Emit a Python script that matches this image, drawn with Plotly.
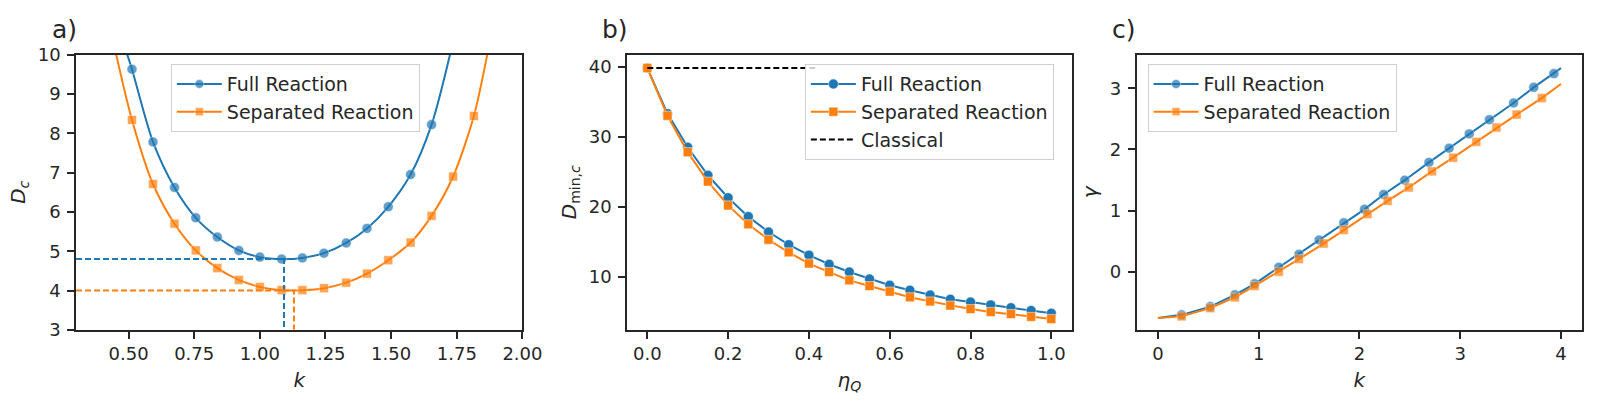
import plotly.graph_objects as go

# ---- data ----
# a) critical D vs k (first/last points are where the curve leaves the frame)
k_a_full = [0.495, 0.513, 0.593, 0.675, 0.756, 0.838, 0.920, 1.000, 1.083, 1.162,
            1.244, 1.329, 1.408, 1.489, 1.574, 1.654, 1.724]
D_a_full = [10.0, 9.63, 7.78, 6.62, 5.85, 5.36, 5.02, 4.85, 4.80, 4.83,
            4.95, 5.21, 5.58, 6.13, 6.95, 8.22, 10.0]
k_a_sep = [0.453, 0.513, 0.593, 0.675, 0.756, 0.838, 0.920, 1.000, 1.083, 1.162,
           1.244, 1.329, 1.408, 1.489, 1.574, 1.654, 1.736, 1.815, 1.866]
D_a_sep = [10.0, 8.34, 6.71, 5.70, 5.02, 4.57, 4.27, 4.09, 4.01, 4.01,
           4.06, 4.20, 4.43, 4.77, 5.22, 5.90, 6.90, 8.44, 10.0]
k_min = [1.092, 1.130]
D_min = [4.80, 4.00]

# b) minimal D vs eta_Q
eta = [0.0, 0.05, 0.10, 0.15, 0.20, 0.25, 0.30, 0.35, 0.40, 0.45, 0.50,
       0.55, 0.60, 0.65, 0.70, 0.75, 0.80, 0.85, 0.90, 0.95, 1.0]
D_b_full = [39.8, 33.3, 28.5, 24.5, 21.3, 18.6, 16.4, 14.6, 13.1, 11.8, 10.7,
            9.7, 8.8, 8.1, 7.4, 6.8, 6.4, 6.0, 5.6, 5.2, 4.8]
D_b_sep = [39.8, 33.0, 27.8, 23.6, 20.2, 17.5, 15.3, 13.5, 11.9, 10.7, 9.5,
           8.7, 7.9, 7.1, 6.5, 5.9, 5.4, 5.0, 4.7, 4.3, 4.0]
eta_classical = [0.0, 0.42]
D_classical = [39.8, 39.8]

# c) gamma vs k (first/last points are the curve ends, drawn without markers)
k_c_full = [0.0, 0.236, 0.52, 0.764, 0.96, 1.20, 1.40, 1.60, 1.845, 2.05, 2.24,
            2.45, 2.69, 2.89, 3.09, 3.29, 3.53, 3.73, 3.93, 4.0]
g_c_full = [-0.756, -0.705, -0.57, -0.378, -0.197, 0.073, 0.285, 0.518, 0.80, 1.02,
            1.264, 1.497, 1.788, 2.02, 2.254, 2.487, 2.76, 3.015, 3.24, 3.33]
k_c_sep = [0.0, 0.236, 0.52, 0.764, 0.96, 1.20, 1.40, 1.645, 1.845, 2.08, 2.28,
           2.49, 2.72, 2.93, 3.16, 3.36, 3.56, 3.81, 4.0]
g_c_sep = [-0.756, -0.73, -0.596, -0.42, -0.233, 0.0, 0.207, 0.461, 0.684, 0.943,
           1.16, 1.378, 1.642, 1.865, 2.124, 2.358, 2.57, 2.84, 3.07]

BLUE = "#1f77b4"
ORANGE = "#ff7f0e"
INK = "#262626"
FONT = "DejaVu Sans"


def sizes(n, s):
    # hide the marker on the two curve end points
    return [0] + [s] * (n - 2) + [0]


fig = go.Figure()

# ---- a) ----
fig.add_trace(go.Scatter(x=k_a_full, y=D_a_full, mode="lines+markers", name="Full Reaction",
                         line=dict(color=BLUE, width=2, shape="spline", smoothing=0.8),
                         marker=dict(symbol="circle", size=sizes(len(k_a_full), 10), color=BLUE,
                                     line=dict(color="white", width=0.5)),
                         xaxis="x", yaxis="y", legend="legend", legendgroup="f"))
fig.add_trace(go.Scatter(x=k_a_sep, y=D_a_sep, mode="lines+markers", name="Separated Reaction",
                         line=dict(color=ORANGE, width=2, shape="spline", smoothing=0.8),
                         marker=dict(symbol="square", size=sizes(len(k_a_sep), 9), color=ORANGE,
                                     line=dict(color="white", width=0.5)),
                         xaxis="x", yaxis="y", legend="legend", legendgroup="s"))
for km, dm, col in zip(k_min, D_min, [BLUE, ORANGE]):
    fig.add_trace(go.Scatter(x=[0.3, km, km], y=[dm, dm, 3.0], mode="lines", showlegend=False,
                             line=dict(color=col, width=2, dash="6px,3px"),
                             xaxis="x", yaxis="y", hoverinfo="skip"))

# ---- b) ----
fig.add_trace(go.Scatter(x=eta, y=D_b_full, mode="lines+markers", name="Full Reaction",
                         line=dict(color=BLUE, width=2),
                         marker=dict(symbol="circle", size=10, color=BLUE,
                                     line=dict(color="white", width=0.5)),
                         xaxis="x2", yaxis="y2", legend="legend2", legendgroup="f"))
fig.add_trace(go.Scatter(x=eta, y=D_b_sep, mode="lines+markers", name="Separated Reaction",
                         line=dict(color=ORANGE, width=2),
                         marker=dict(symbol="square", size=9, color=ORANGE,
                                     line=dict(color="white", width=0.5)),
                         xaxis="x2", yaxis="y2", legend="legend2", legendgroup="s"))
fig.add_trace(go.Scatter(x=eta_classical, y=D_classical, mode="lines", name="Classical",
                         line=dict(color="black", width=2, dash="6px,3px"),
                         xaxis="x2", yaxis="y2", legend="legend2", legendgroup="c"))

# ---- c) ----
fig.add_trace(go.Scatter(x=k_c_full, y=g_c_full, mode="lines+markers", name="Full Reaction",
                         line=dict(color=BLUE, width=2),
                         marker=dict(symbol="circle", size=sizes(len(k_c_full), 10), color=BLUE,
                                     line=dict(color="white", width=0.5)),
                         xaxis="x3", yaxis="y3", legend="legend3", legendgroup="f"))
fig.add_trace(go.Scatter(x=k_c_sep, y=g_c_sep, mode="lines+markers", name="Separated Reaction",
                         line=dict(color=ORANGE, width=2),
                         marker=dict(symbol="square", size=sizes(len(k_c_sep), 9), color=ORANGE,
                                     line=dict(color="white", width=0.5)),
                         xaxis="x3", yaxis="y3", legend="legend3", legendgroup="s"))

W, H = 1611, 411
top, bottom = 1 - 46 / H, 1 - 336 / H


def axis(domain, rng, title, anchor, horizontal, **kw):
    return dict(domain=domain, range=rng, anchor=anchor, showline=True, mirror=True,
                linecolor=INK, linewidth=1.6, ticks="outside", ticklen=7, tickwidth=1.5,
                tickcolor=INK, showgrid=False, zeroline=False,
                ticklabelstandoff=0 if horizontal else 3,
                tickfont=dict(family=FONT, size=18, color=INK),
                title=dict(text=title, font=dict(family=FONT, size=20, color=INK),
                           standoff=10 if horizontal else 7),
                **kw)


legend_style = dict(bgcolor="rgba(255,255,255,0.8)", bordercolor="#d0d0d0", borderwidth=1,
                    font=dict(family=FONT, size=19, color=INK), xanchor="left", yanchor="top",
                    traceorder="grouped", tracegroupgap=0, itemwidth=45)

fig.update_layout(
    width=W, height=H, margin=dict(l=0, r=0, t=0, b=0),
    plot_bgcolor="white", paper_bgcolor="white",
    font=dict(family=FONT, color=INK),
    xaxis=axis([77 / W, 529 / W], [0.3, 2.0], "<i>k</i>", "y", True,
               tickvals=[0.5, 0.75, 1.0, 1.25, 1.5, 1.75, 2.0], tickformat=".2f"),
    yaxis=axis([bottom, top], [3, 10], "<i>D<sub>c</sub></i>", "x", False, dtick=1),
    xaxis2=axis([635 / W, 1085 / W], [-0.05, 1.05], "<i>η<sub>Q</sub></i>", "y2", True,
                dtick=0.2, tickformat=".1f"),
    yaxis2=axis([bottom, top], [2.44, 41.72], "<i>D</i><sub>min,<i>c</i></sub>", "x2", False,
                tickvals=[10, 20, 30, 40]),
    xaxis3=axis([1151 / W, 1602 / W], [-0.21, 4.21], "<i>k</i>", "y3", True, dtick=1),
    yaxis3=axis([bottom, top], [-0.95, 3.55], "<i>γ</i>", "x3", False, tickvals=[0, 1, 2, 3]),
    legend=dict(x=173 / W, y=1 - 56 / H, **legend_style),
    legend2=dict(x=815 / W, y=1 - 56 / H, **legend_style),
    legend3=dict(x=1162 / W, y=1 - 56 / H, **legend_style),
    showlegend=True,
)

for label, xpx in [("a)", 51), ("b)", 608), ("c)", 1124)]:
    fig.add_annotation(text=label, x=xpx / W, y=1 - 20 / H, xref="paper", yref="paper",
                       xanchor="left", yanchor="middle", showarrow=False,
                       font=dict(family=FONT, size=25, color=INK))

# page body has a default 8px margin; drop it (and scrollbars) so the figure fills the window
fig.write_html("out.html", config={"displayModeBar": False},
               post_script="document.body.style.margin='0';document.body.style.overflow='hidden';")
